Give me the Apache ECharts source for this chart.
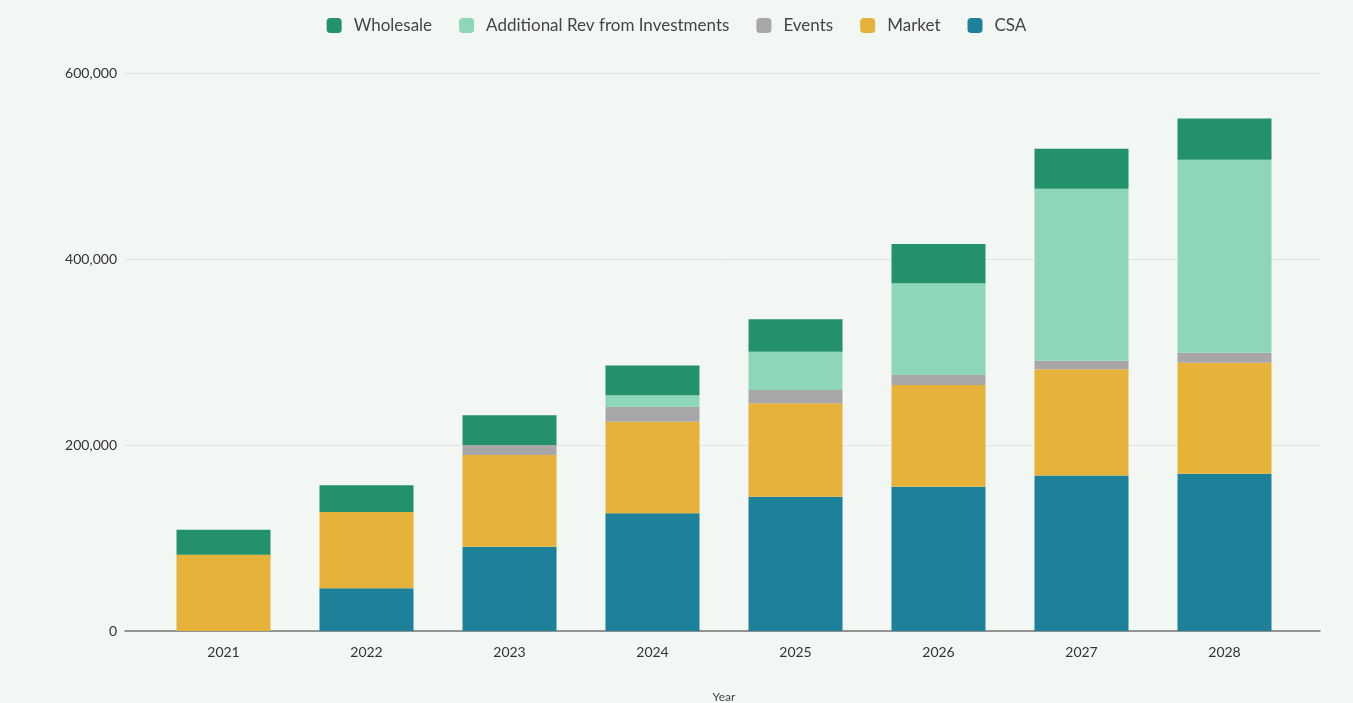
<!DOCTYPE html>
<html>
<head>
<meta charset="utf-8">
<script src="https://cdn.jsdelivr.net/npm/echarts@6/dist/echarts.min.js"></script>
<style>
html,body{margin:0;padding:0;background:#f2f7f4;}
#c{width:1353px;height:703px;}
</style>
</head>
<body>
<div id="c"></div>
<script>
const years = ['2021','2022','2023','2024','2025','2026','2027','2028'];
const csa        = [0, 46000, 90600, 126600, 144400, 155200, 167200, 169100];
const market     = [82000, 82000, 98600, 98500, 100400, 109300, 114200, 119400];
const events     = [0, 0, 10700, 16000, 14300, 10800, 9100, 10800];
const additional = [0, 0, 0, 12500, 41200, 98600, 185000, 207300];
const wholesale  = [27000, 28700, 32000, 32000, 34800, 42300, 43000, 44500];
const yTicks = [0, 200000, 400000, 600000];
const legendOrder = ['Wholesale','Additional Rev from Investments','Events','Market','CSA'];

const colors = {
  'CSA':'#1d8199',
  'Market':'#e6b23a',
  'Events':'#a9a6aa',
  'Additional Rev from Investments':'#8ed6b8',
  'Wholesale':'#23926a'
};

function s(name, data){
  return {name:name, type:'bar', stack:'total', data:data, barWidth:94,
    xAxisIndex:0, yAxisIndex:0,
    itemStyle:{color:colors[name]}};
}

const yMin = yTicks[0], yMax = yTicks[yTicks.length-1], yStep = yTicks[1]-yTicks[0];

const chart = echarts.init(document.getElementById('c'));
chart.setOption({
  backgroundColor:'#f2f7f4',
  animation:false,
  legend:{
    data:legendOrder, top:12, left:'center',
    itemWidth:15, itemHeight:15, itemGap:27, icon:'roundRect',
    textStyle:{color:'#444', fontSize:17, fontFamily:'Lato', padding:[0,0,0,7]}
  },
  grid:[
    {left:152, right:57, top:73, bottom:72, outerBoundsMode:'none', containLabel:false},
    {left:125, right:33, top:73, bottom:72, outerBoundsMode:'none', containLabel:false}
  ],
  xAxis:[{
    type:'category', data:years, gridIndex:0,
    name:'Year', nameLocation:'middle', nameGap:60,
    nameTextStyle:{color:'#444', fontSize:12, fontFamily:'Lato'},
    axisLine:{show:false},
    axisTick:{show:false},
    axisLabel:{color:'#333', fontSize:14, margin:14, fontFamily:'Lato'}
  },{
    type:'value', gridIndex:1, min:0, max:1,
    axisLine:{show:true, lineStyle:{color:'#777', width:1.5}},
    axisTick:{show:false}, axisLabel:{show:false}, splitLine:{show:false}
  }],
  yAxis:[{
    type:'value', gridIndex:0, min:yMin, max:yMax, interval:yStep,
    show:false
  },{
    type:'value', gridIndex:1, min:yMin, max:yMax, interval:yStep,
    axisLine:{show:false}, axisTick:{show:false},
    splitLine:{lineStyle:{color:'#dfe6e2'}},
    axisLabel:{color:'#333', fontSize:14, margin:8, fontFamily:'Lato',
      formatter:function(v){return v.toLocaleString('en-US');}}
  }],
  series:[
    s('CSA', csa),
    s('Market', market),
    s('Events', events),
    s('Additional Rev from Investments', additional),
    s('Wholesale', wholesale)
  ]
});
</script>
</body>
</html>
